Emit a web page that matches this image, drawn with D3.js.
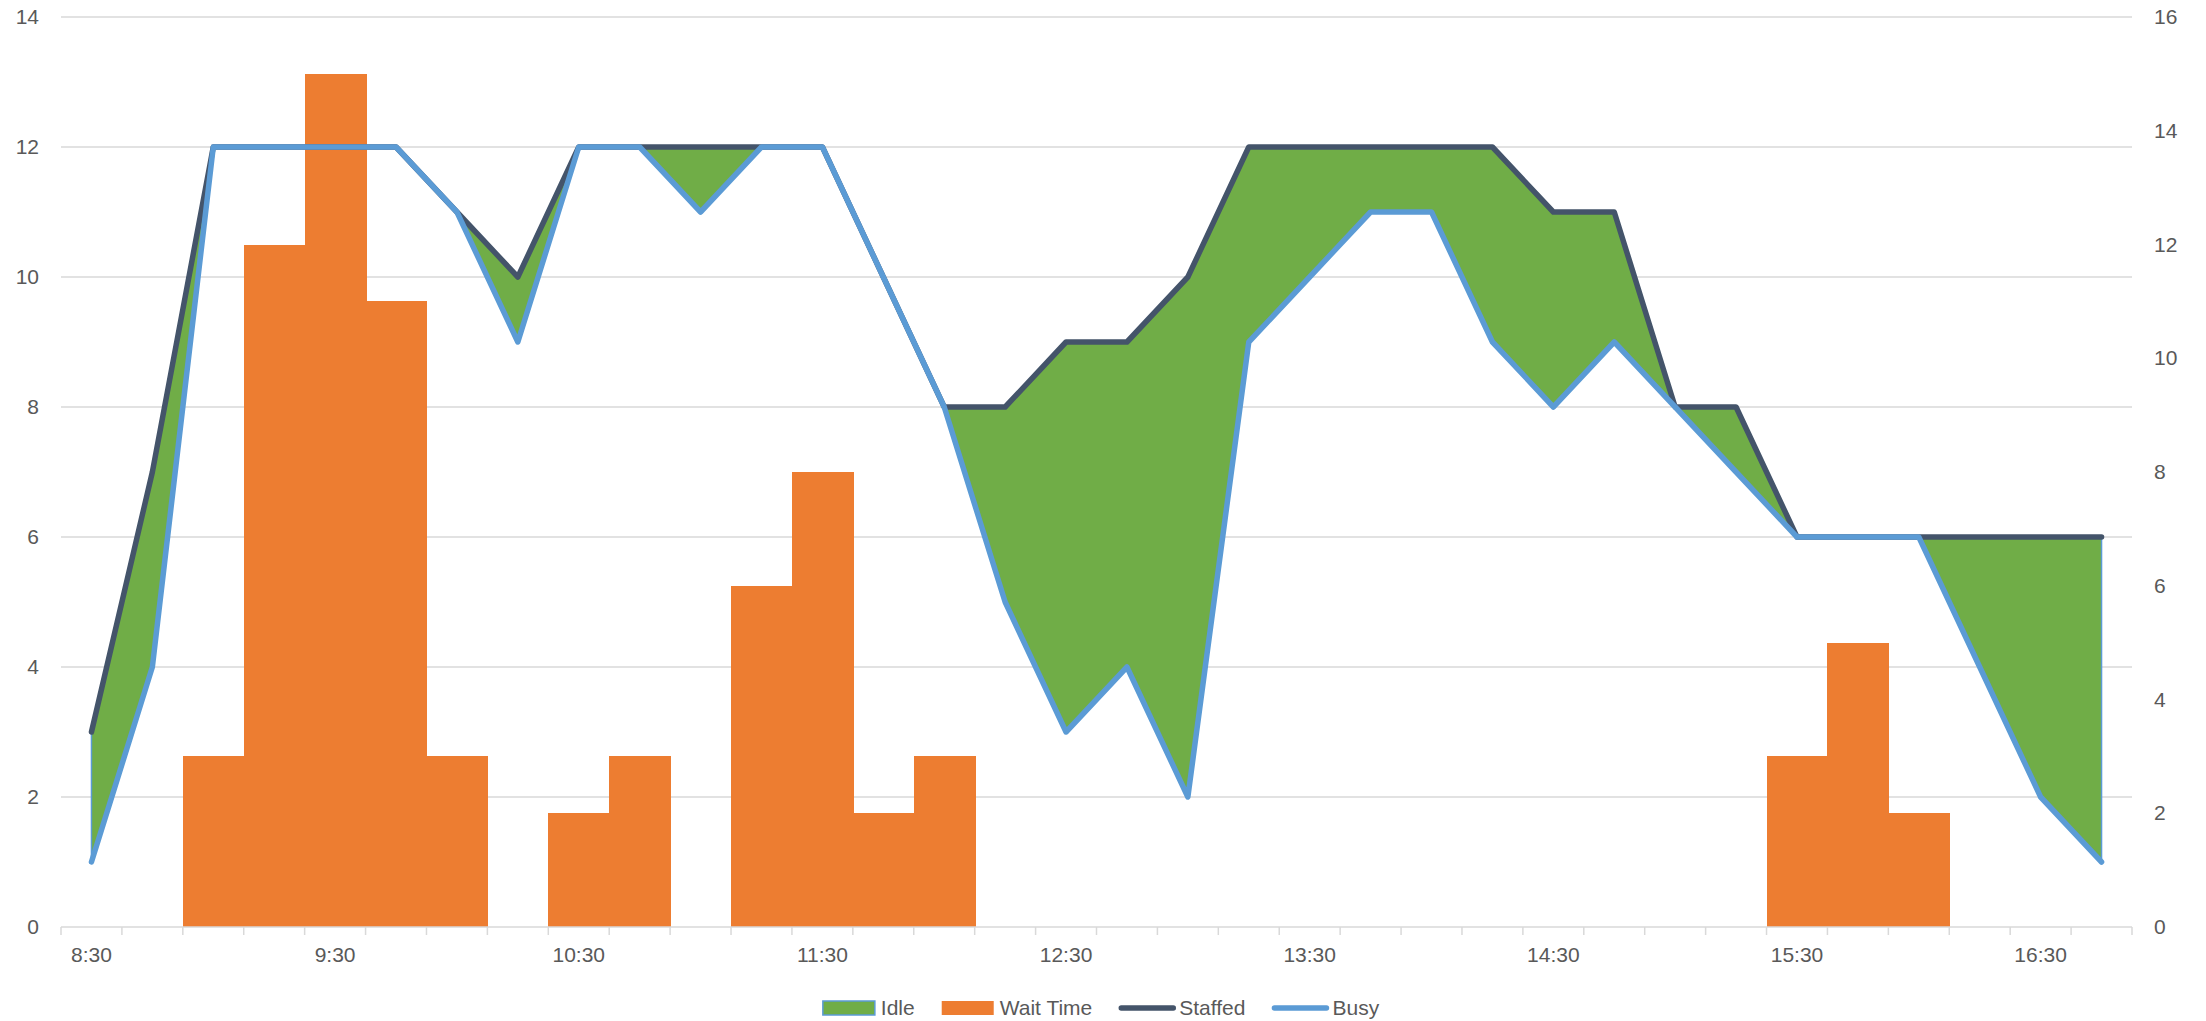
<!DOCTYPE html>
<html>
<head>
<meta charset="utf-8">
<script src="https://cdn.jsdelivr.net/npm/d3@7"></script>
<style>
  body { margin: 0; background: #fff; }
  svg { display: block; font-family: "Liberation Sans", Arial, sans-serif; }
</style>
</head>
<body>
<div id="chart"></div>
<script>
// quarter-hour slots
const times = ["8:30","8:45","9:00","9:15","9:30","9:45","10:00","10:15","10:30","10:45",
  "11:00","11:15","11:30","11:45","12:00","12:15","12:30","12:45","13:00","13:15",
  "13:30","13:45","14:00","14:15","14:30","14:45","15:00","15:15","15:30","15:45",
  "16:00","16:15","16:30","16:45"];
const staffed = [3,7,12,12,12,12,11,10,12,12,12,12,12,10,8,8,9,9,10,12,12,12,12,12,11,11,8,8,6,6,6,6,6,6];
const busy    = [1,4,12,12,12,12,11,9,12,12,11,12,12,10,8,5,3,4,2,9,10,11,11,9,8,9,8,7,6,6,6,4,2,1];
const waitTime = [0,0,3,12,15,11,3,0,2,3,0,6,8,2,3,0,0,0,0,0,0,0,0,0,0,0,0,0,3,5,2,0,0,0];
const leftTicks = [0,2,4,6,8,10,12,14];
const rightTicks = [0,2,4,6,8,10,12,14,16];
const timeLabels = ["8:30","9:30","10:30","11:30","12:30","13:30","14:30","15:30","16:30"];

const width = 2206, height = 1021;
const plotLeft = 61, plotRight = 2132, plotTop = 17, plotBottom = 927;
const textColor = "#595959", gridColor = "#D9D9D9";
const colors = {idle: "#70AD47", wait: "#ED7D31", staffed: "#44546A", busy: "#5B9BD5"};

const rows = times.map((t, i) => ({t, staffed: staffed[i], busy: busy[i], wait: waitTime[i]}));

const x = d3.scaleBand().domain(times).range([plotLeft, plotRight]).padding(0);
const yL = d3.scaleLinear().domain([0, 14]).range([plotBottom, plotTop]);
const yR = d3.scaleLinear().domain([0, 16]).range([plotBottom, plotTop]);
const cx = d => x(d.t) + x.bandwidth() / 2;

const svg = d3.select("#chart").append("svg")
    .attr("width", width)
    .attr("height", height);

// gridlines
svg.append("g")
    .selectAll("line")
    .data(leftTicks.slice(1))
    .join("line")
    .attr("x1", plotLeft).attr("x2", plotRight)
    .attr("y1", d => yL(d)).attr("y2", d => yL(d))
    .attr("stroke", gridColor)
    .attr("stroke-width", 1.5);

// idle area between busy and staffed
svg.append("path")
    .datum(rows)
    .attr("fill", colors.idle)
    .attr("stroke", colors.busy)
    .attr("stroke-width", 1.5)
    .attr("d", d3.area().x(cx).y0(d => yL(d.busy)).y1(d => yL(d.staffed)));

// wait time bars
svg.append("g")
    .attr("shape-rendering", "crispEdges")
    .selectAll("rect")
    .data(rows.filter(d => d.wait > 0))
    .join("rect")
    .attr("x", d => x(d.t))
    .attr("width", x.bandwidth() + 1)
    .attr("y", d => yR(d.wait))
    .attr("height", d => yR(0) - yR(d.wait))
    .attr("fill", colors.wait);

// lines
const lineFor = key => d3.line().x(cx).y(d => yL(d[key]));
["staffed", "busy"].forEach(key => {
  svg.append("path")
      .datum(rows)
      .attr("fill", "none")
      .attr("stroke", colors[key])
      .attr("stroke-width", 5.5)
      .attr("stroke-linejoin", "round")
      .attr("stroke-linecap", "round")
      .attr("d", lineFor(key));
});

// bottom axis line + tick marks at band edges
const edges = times.map(t => x(t)).concat([plotRight]);
svg.append("line")
    .attr("x1", plotLeft).attr("x2", plotRight)
    .attr("y1", plotBottom).attr("y2", plotBottom)
    .attr("stroke", gridColor).attr("stroke-width", 1.5);
svg.append("g")
    .selectAll("line")
    .data(edges)
    .join("line")
    .attr("x1", d => d).attr("x2", d => d)
    .attr("y1", plotBottom).attr("y2", plotBottom + 8)
    .attr("stroke", gridColor).attr("stroke-width", 1.5);

const xAxis = svg.append("g")
    .attr("transform", `translate(0,${plotBottom})`)
    .call(d3.axisBottom(x).tickValues(timeLabels).tickSize(0).tickPadding(20));
xAxis.select(".domain").remove();

const yAxisL = svg.append("g")
    .attr("transform", `translate(${plotLeft},0)`)
    .call(d3.axisLeft(yL).tickValues(leftTicks).tickSize(0).tickPadding(22));
yAxisL.select(".domain").remove();

const yAxisR = svg.append("g")
    .attr("transform", `translate(${plotRight},0)`)
    .call(d3.axisRight(yR).tickValues(rightTicks).tickSize(0).tickPadding(22));
yAxisR.select(".domain").remove();

svg.selectAll(".tick text")
    .attr("fill", textColor)
    .style("font-size", "21px")
    .style("font-family", "Liberation Sans, Arial, sans-serif");

// legend
const legendItems = [
  {name: "Idle", type: "box", color: colors.idle, border: colors.busy},
  {name: "Wait Time", type: "box", color: colors.wait},
  {name: "Staffed", type: "line", color: colors.staffed},
  {name: "Busy", type: "line", color: colors.busy}
];
const legend = svg.append("g");
const ly = 1008;
let lx = 0;
legendItems.forEach(item => {
  const g = legend.append("g").attr("transform", `translate(${lx},0)`);
  let sw;
  if (item.type === "box") {
    sw = 52;
    g.append("rect")
        .attr("x", 0).attr("y", ly - 7)
        .attr("width", sw).attr("height", 14)
        .attr("fill", item.color)
        .attr("stroke", item.border || "none")
        .attr("stroke-width", item.border ? 1.5 : 0);
  } else {
    sw = 56;
    g.append("line")
        .attr("x1", 2).attr("x2", sw - 2)
        .attr("y1", ly).attr("y2", ly)
        .attr("stroke", item.color)
        .attr("stroke-width", 5.5)
        .attr("stroke-linecap", "round");
  }
  const gap = item.type === "box" ? 6 : 4;
  const txt = g.append("text")
      .attr("x", sw + gap)
      .attr("y", ly)
      .attr("dy", "0.35em")
      .attr("fill", textColor)
      .style("font-size", "21px")
      .text(item.name);
  lx += sw + gap + txt.node().getComputedTextLength() + 27;
});
const legendWidth = lx - 27;
legend.attr("transform", `translate(${1101 - legendWidth / 2},0)`);
</script>
</body>
</html>
